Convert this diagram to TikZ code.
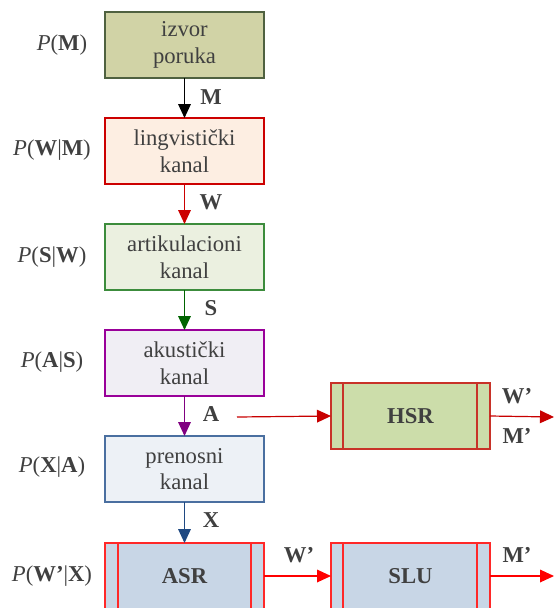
\documentclass[tikz,border=0pt]{standalone}
\usepackage{fontspec}
\setmainfont{Liberation Serif}
\newfontfamily\boxfont{Liberation Serif}
\usetikzlibrary{arrows.meta}
\definecolor{txt}{HTML}{404040}
\definecolor{f1}{RGB}{209,211,166}\definecolor{d1}{RGB}{79,97,64}
\definecolor{f2}{RGB}{253,238,226}\definecolor{d2}{RGB}{204,0,0}
\definecolor{f3}{RGB}{235,240,224}\definecolor{d3}{RGB}{60,140,60}
\definecolor{f4}{RGB}{240,238,244}\definecolor{d4}{RGB}{153,0,153}
\definecolor{f5}{RGB}{237,241,246}\definecolor{d5}{RGB}{74,111,160}
\definecolor{fasr}{RGB}{200,214,230}\definecolor{dasr}{RGB}{255,40,40}
\definecolor{fhsr}{RGB}{204,221,170}\definecolor{dhsr}{RGB}{200,50,40}
\definecolor{a2}{RGB}{204,0,0}\definecolor{a3}{RGB}{0,100,0}
\definecolor{a4}{RGB}{128,0,128}\definecolor{a5}{RGB}{31,73,130}
\definecolor{ahsr}{RGB}{200,0,0}\definecolor{aasr}{RGB}{255,0,0}
\begin{document}
\begin{tikzpicture}[x=0.75pt,y=-0.75pt,
  font=\boxfont\fontsize{17}{20}\selectfont,
  box/.style={draw, line width=0.9pt, minimum width=119.25pt, minimum height=49.5pt, inner sep=0pt, outer sep=0pt, align=center, text=txt, anchor=north west},
  arr/.style={line width=0.9pt, -{Triangle[width=9.5pt,length=10.5pt]}},
  lab/.style={text=txt, font=\boxfont\fontsize{17}{20}\selectfont\bfseries},
  plab/.style={text=txt}]
\useasboundingbox (0,0) rectangle (554,608);
% left column boxes
\node[box, fill=f1, draw=d1] (b1) at (105,12) {izvor\\poruka};
\node[box, fill=f2, draw=d2] (b2) at (105,118) {lingvistički\\kanal};
\node[box, fill=f3, draw=d3] (b3) at (105,224) {artikulacioni\\kanal};
\node[box, fill=f4, draw=d4] (b4) at (105,330) {akustički\\kanal};
\node[box, fill=f5, draw=d5] (b5) at (105,436) {prenosni\\kanal};
% ASR box (cut at bottom)
\fill[fasr] (105,543) rectangle (264,612);
\draw[line width=0.9pt, dasr] (105,612) -- (105,543) -- (264,543) -- (264,612);
\draw[line width=0.9pt, dasr] (118,543) -- (118,612) (251,543) -- (251,612);
\node[lab] (asr) at (184.5,576) {ASR};
\coordinate (asrR) at (264,576);
\coordinate (asrT) at (184.5,543);
% SLU box
\fill[fasr] (331,543) rectangle (490,612);
\draw[line width=0.9pt, dasr] (331,612) -- (331,543) -- (490,543) -- (490,612);
\draw[line width=0.9pt, dasr] (343,543) -- (343,612) (477,543) -- (477,612);
\node[lab] (slu) at (410.5,576) {SLU};
\coordinate (sluL) at (331,576);
\coordinate (sluR) at (490,576);
\coordinate (sluOut) at (554,576);
% HSR box
\node[box, fill=fhsr, draw=dhsr, font=\boxfont\fontsize{17}{20}\selectfont\bfseries] (hsr) at (331,383) {HSR};
\draw[line width=0.9pt, dhsr] (343,383) -- (343,449) (477,383) -- (477,449);
\coordinate (hsrIn) at (237,417);
\coordinate (hsrOut) at (554,417);
% arrows
\draw[arr, black] (b1.south) -- (b2.north);
\draw[arr, a2] (b2.south) -- (b3.north);
\draw[arr, a3] (b3.south) -- (b4.north);
\draw[arr, a4] (b4.south) -- (b5.north);
\draw[arr, a5] (b5.south) -- (b5.south |- asrT);
\draw[arr, ahsr] (hsrIn) -- (hsr.west);
\draw[arr, ahsr] (hsr.east) -- (hsrOut);
\draw[arr, aasr] (asrR) -- (sluL);
\draw[arr, aasr] (sluR) -- (sluOut);
% arrow labels
\node[lab] (lM) at (211,97) {M};
\node[lab] (lW) at (211,202) {W};
\node[lab] (lS) at (211,308) {S};
\node[lab] (lA) at (211,414) {A};
\node[lab] (lX) at (211,520) {X};
\node[lab] (lW1) at (517,396) {W’};
\node[lab] (lM1) at (517,436) {M’};
\node[lab] (lW2) at (299,555) {W’};
\node[lab] (lM2) at (517,555) {M’};
% probability labels
\node[plab] (p1) at (62,45) {\textit{P}(\textbf{M})};
\node[plab] (p2) at (52,150) {\textit{P}(\textbf{W}|\textbf{M})};
\node[plab] (p3) at (52,257) {\textit{P}(\textbf{S}|\textbf{W})};
\node[plab] (p4) at (52,362) {\textit{P}(\textbf{A}|\textbf{S})};
\node[plab] (p5) at (52,467) {\textit{P}(\textbf{X}|\textbf{A})};
\node[plab] (p6) at (52,576) {\textit{P}(\textbf{W’}|\textbf{X})};
\end{tikzpicture}
\end{document}
